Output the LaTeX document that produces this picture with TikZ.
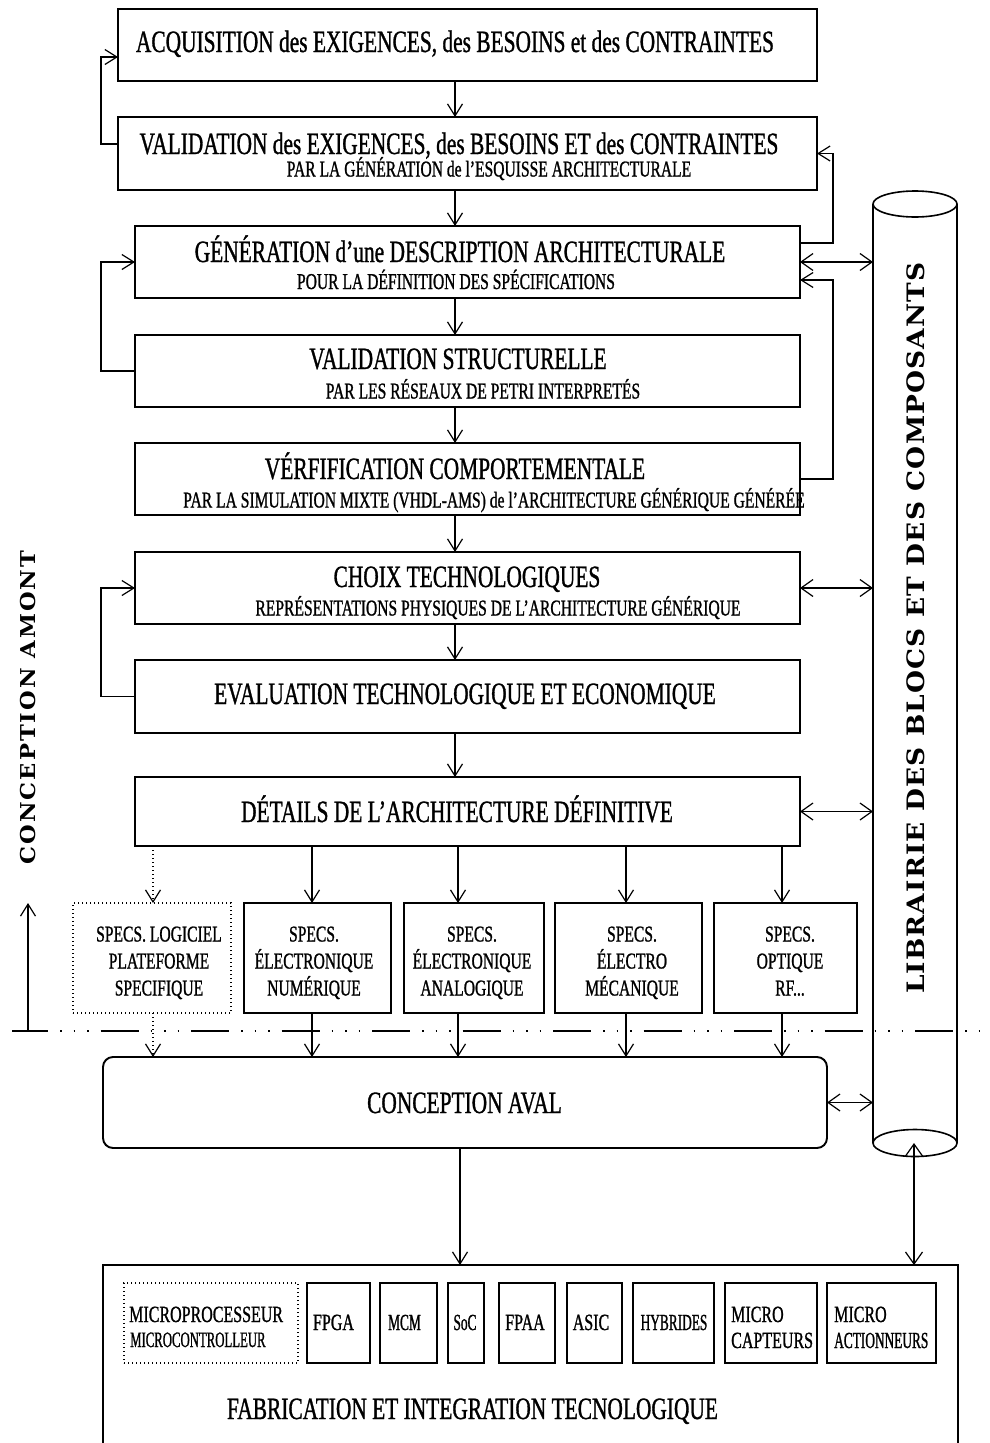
\documentclass[tikz,border=0pt]{standalone}
\usepackage{fontspec}
\setmainfont{Liberation Serif}
\newfontfamily\nar[FakeStretch=0.69,FakeBold=1]{Liberation Serif}
\newfontfamily\nnar[FakeStretch=0.58,FakeBold=1]{Liberation Serif}
\newfontfamily\wide[FakeStretch=1.1,LetterSpace=10]{DejaVu Serif}
\newfontfamily\widelib[FakeStretch=1.1,LetterSpace=5]{DejaVu Serif}
\usetikzlibrary{arrows.meta}

\begin{document}
\begin{tikzpicture}[x=1pt,y=-1pt,
  box/.style={draw, line width=1.9pt, inner sep=0pt, outer sep=0pt},
  dotbox/.style={draw, line width=1.4pt, dash pattern=on 1.4pt off 2.6pt, inner sep=0pt, outer sep=0pt},
  ttl/.style={anchor=base, inner sep=0pt, font=\nar\fontsize{31}{34}\selectfont},
  sub/.style={anchor=base, inner sep=0pt, font=\nar\fontsize{22.6}{26}\selectfont},
  spec/.style={anchor=base, inner sep=0pt, align=center, font=\nar\fontsize{22.6}{27}\selectfont},
  part/.style={anchor=base, inner sep=0pt, font=\nar\fontsize{23.2}{26}\selectfont},
  partsm/.style={anchor=base, inner sep=0pt, font=\nnar\fontsize{23}{26}\selectfont},
  arr/.style={line width=1.2pt, -{Straight Barb[length=12pt,width=15pt]}},
  dotarr/.style={arr, dash pattern=on 1.4pt off 2.6pt},
  darr/.style={line width=1.2pt, {Straight Barb[length=12pt,width=17pt]}-{Straight Barb[length=12pt,width=17pt]}},
  vlabel/.style={rotate=90, inner sep=0pt}
]
\useasboundingbox (0,0) rectangle (989,1443);

% ---------- upstream design chain ----------
\node[box, minimum width=699pt, minimum height=72pt] (b1) at (467.5,45) {};
\node[box, minimum width=699pt, minimum height=73pt] (b2) at (467.5,153.5) {};
\node[box, minimum width=665pt, minimum height=72pt] (b3) at (467.5,262) {};
\node[box, minimum width=665pt, minimum height=72pt] (b4) at (467.5,371) {};
\node[box, minimum width=665pt, minimum height=72pt] (b5) at (467.5,479) {};
\node[box, minimum width=665pt, minimum height=72pt] (b6) at (467.5,588) {};
\node[box, minimum width=665pt, minimum height=73pt] (b7) at (467.5,696.5) {};
\node[box, minimum width=665pt, minimum height=69pt] (b8) at (467.5,811.5) {};

\node[ttl] (t1)  at (455,52)    {ACQUISITION des EXIGENCES, des BESOINS et des CONTRAINTES};
\node[ttl] (t2)  at (459,154)   {VALIDATION des EXIGENCES, des BESOINS ET des CONTRAINTES};
\node[sub] (t2s) at (489,176.5) {PAR LA GÉNÉRATION de l’ESQUISSE ARCHITECTURALE};
\node[ttl] (t3)  at (460,262)   {GÉNÉRATION d’une DESCRIPTION ARCHITECTURALE};
\node[sub] (t3s) at (456,289)   {POUR LA DÉFINITION DES SPÉCIFICATIONS};
\node[ttl] (t4)  at (458,369)   {VALIDATION STRUCTURELLE};
\node[sub] (t4s) at (483,398.5) {PAR LES RÉSEAUX DE PETRI INTERPRETÉS};
\node[ttl] (t5)  at (455,479)   {VÉRFIFICATION COMPORTEMENTALE};
\node[sub] (t5s) at (494,507.5) {PAR LA SIMULATION MIXTE (VHDL-AMS) de l’ARCHITECTURE GÉNÉRIQUE GÉNÉRÉE};
\node[ttl] (t6)  at (467,587)   {CHOIX TECHNOLOGIQUES};
\node[sub] (t6s) at (498,615.5) {REPRÉSENTATIONS PHYSIQUES DE L’ARCHITECTURE GÉNÉRIQUE};
\node[ttl] (t7)  at (465,704)   {EVALUATION TECHNOLOGIQUE ET ECONOMIQUE};
\node[ttl] (t8)  at (457,822)   {DÉTAILS DE L’ARCHITECTURE DÉFINITIVE};

% ---------- specification blocks ----------
\node[dotbox, minimum width=158pt, minimum height=110pt] (s1) at (152,958) {};
\node[box, minimum width=147pt, minimum height=110pt] (s2) at (317.5,958) {};
\node[box, minimum width=140pt, minimum height=110pt] (s3) at (474,958) {};
\node[box, minimum width=147pt, minimum height=110pt] (s4) at (628.5,958) {};
\node[box, minimum width=143pt, minimum height=110pt] (s5) at (785.5,958) {};

% base anchor of a multi-line node sits on its last line
\node[spec] (s1t) at (159,995.5) {SPECS. LOGICIEL\\PLATEFORME\\SPECIFIQUE};
\node[spec] (s2t) at (314,995.5) {SPECS.\\ÉLECTRONIQUE\\NUMÉRIQUE};
\node[spec] (s3t) at (472,995.5) {SPECS.\\ÉLECTRONIQUE\\ANALOGIQUE};
\node[spec] (s4t) at (632,995.5) {SPECS.\\ÉLECTRO\\MÉCANIQUE};
\node[spec] (s5t) at (790,995.5) {SPECS.\\OPTIQUE\\RF...};

% ---------- downstream design ----------
\node[box, rounded corners=10pt, minimum width=724pt, minimum height=91pt] (aval) at (465,1102.5) {};
\node[ttl] (avalt) at (464.5,1113) {CONCEPTION AVAL};

% ---------- manufacturing ----------
\node[box, minimum width=855pt, minimum height=195pt] (fab) at (530.5,1362.5) {};
\node[ttl] (fabt) at (472.5,1419) {FABRICATION ET INTEGRATION TECNOLOGIQUE};

\node[dotbox, minimum width=174pt, minimum height=80pt] (f0) at (211,1323) {};
\node[box, minimum width=63pt,  minimum height=80pt] (f1) at (338.5,1323) {};
\node[box, minimum width=57pt,  minimum height=80pt] (f2) at (408.5,1323) {};
\node[box, minimum width=36pt,  minimum height=80pt] (f3) at (466,1323) {};
\node[box, minimum width=56pt,  minimum height=80pt] (f4) at (527,1323) {};
\node[box, minimum width=55pt,  minimum height=80pt] (f5) at (594.5,1323) {};
\node[box, minimum width=81pt,  minimum height=80pt] (f6) at (673.5,1323) {};
\node[box, minimum width=92pt,  minimum height=80pt] (f7) at (771,1323) {};
\node[box, minimum width=109pt, minimum height=80pt] (f8) at (881.5,1323) {};

\node[part, anchor=base west]   (f0a) at (129,1322) {MICROPROCESSEUR};
\node[partsm, anchor=base west, font=\nnar\fontsize{22}{24}\selectfont] (f0b) at (130,1347) {MICROCONTROLLEUR};
\node[part]   (f1t) at (333.5,1330) {FPGA};
\node[partsm] (f2t) at (404.5,1330) {MCM};
\node[partsm] (f3t) at (465,1330)   {SoC};
\node[part]   (f4t) at (525,1330)   {FPAA};
\node[part]   (f5t) at (591,1330)   {ASIC};
\node[partsm] (f6t) at (674,1330)   {HYBRIDES};
\node[part, anchor=base west]   (f7a) at (731,1322) {MICRO};
\node[part, anchor=base west]   (f7b) at (731,1348) {CAPTEURS};
\node[part, anchor=base west]   (f8a) at (834,1322) {MICRO};
\node[partsm, anchor=base west] (f8b) at (834,1348) {ACTIONNEURS};

% ---------- component library (cylinder) ----------
\node[minimum width=84pt, minimum height=939pt, inner sep=0pt, outer sep=0pt] (cyl) at (915,673.5) {};
\draw[line width=1.6pt] (cyl.north west) -- (cyl.south west)
                        (cyl.north east) -- (cyl.south east);
\draw[line width=1.6pt] (cyl.north) ellipse [x radius=42pt, y radius=13pt];
\draw[line width=1.6pt] (cyl.south) ellipse [x radius=42pt, y radius=13.5pt];
\node[vlabel, font=\widelib\bfseries\fontsize{24}{28}\selectfont] (lib) at (916,628)
  {LIBRAIRIE DES BLOCS ET DES COMPOSANTS};

% ---------- upstream / downstream boundary ----------
\coordinate (amB) at (28,1031);
\coordinate (amT) at (28,903);
\coordinate (sepL) at (12,1031);
\coordinate (sepM) at (48,1031);
\coordinate (sepR) at (989,1031);
\draw[line width=1.4pt] (sepL) -- (sepM);
\draw[arr] (amB) -- (amT);
\draw[line width=2pt, dash pattern=on 38pt off 12pt on 1.5pt off 12pt on 1.5pt off 12pt on 1.5pt off 12pt, dash phase=38pt]
  (sepM) -- (sepR);
\node[vlabel, font=\wide\bfseries\fontsize{20.5}{24}\selectfont] (amont) at (28.5,707.5) {CONCEPTION AMONT};

% ---------- connectors ----------
\coordinate (flowx) at (455,0);
\foreach \a/\b in {b1/b2,b2/b3,b3/b4,b4/b5,b5/b6,b6/b7,b7/b8}
  \draw[arr] (\a.south -| flowx) -- (\b.north -| flowx);

\coordinate (c1) at (153,0);
\coordinate (c2) at (312,0);
\coordinate (c3) at (458,0);
\coordinate (c4) at (626,0);
\coordinate (c5) at (782,0);
\coordinate (c6) at (460,0);
\coordinate (c7) at (914,0);
\draw[dotarr] (b8.south -| c1) -- (s1.north -| c1);
\draw[dotarr] (s1.south -| c1) -- (aval.north -| c1);
\foreach \i in {2,...,5} {
  \draw[arr] (b8.south -| c\i) -- (s\i.north -| c\i);
  \draw[arr] (s\i.south -| c\i) -- (aval.north -| c\i);
}
\draw[arr] (aval.south -| c6) -- (fab.north -| c6);
\draw[darr] (cyl.south -| c7) -- (fab.north -| c7);

% feedback loops on the left
\coordinate (loopL) at (101,0);
\draw[arr] ([yshift=9.5pt]b2.west) -- ([yshift=9.5pt]b2.west -| loopL) |- ([yshift=-12pt]b1.west);
\draw[arr] (b4.west) -- (b4.west -| loopL) |- (b3.west);
\draw[arr] (b7.west) -- (b7.west -| loopL) |- (b6.west);

% feedback loops on the right
\coordinate (loopR) at (833,0);
\draw[arr] ([yshift=19pt]b3.east) -- ([yshift=19pt]b3.east -| loopR) |- (b2.east);
\draw[arr] (b5.east) -- (b5.east -| loopR) |- ([yshift=-18pt]b3.east);

% exchanges with the library
\draw[darr] (b3.east) -- (b3.east -| cyl.west);
\draw[darr] (b6.east) -- (b6.east -| cyl.west);
\draw[darr] (b8.east) -- (b8.east -| cyl.west);
\draw[darr] (aval.east) -- (aval.east -| cyl.west);
\end{tikzpicture}
\end{document}
